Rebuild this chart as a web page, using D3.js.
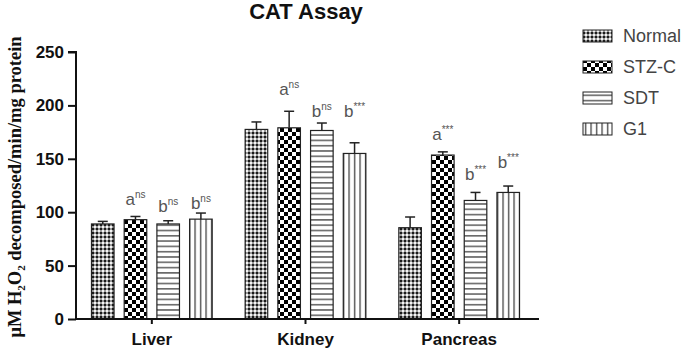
<!DOCTYPE html>
<html>
<head>
<meta charset="utf-8">
<script src="https://cdn.jsdelivr.net/npm/d3@7"></script>
<style>
  body { margin: 0; background: #fff; }
  svg { display: block; }
  .title { font-family: "Liberation Sans", Arial, sans-serif; font-weight: bold; font-size: 22px; fill: #111; }
  .tickLabel { font-family: "Liberation Sans", Arial, sans-serif; font-weight: bold; font-size: 17px; fill: #111; }
  .xLabel { font-family: "Liberation Sans", Arial, sans-serif; font-weight: bold; font-size: 17px; fill: #111; }
  .yTitle { font-family: "Liberation Serif", "Times New Roman", serif; font-weight: bold; font-size: 18.5px; fill: #111; }
  .legendText { font-family: "Liberation Sans", Arial, sans-serif; font-size: 18px; fill: #444; }
  .mark { font-family: "Liberation Sans", Arial, sans-serif; font-size: 17px; fill: #555; }
</style>
</head>
<body>
<div id="chart"></div>
<script>
// categories
var organs = ["Liver", "Kidney", "Pancreas"];
var groups = ["Normal", "STZ-C", "SDT", "G1"];

// means and upper error (SEM) per organ, in group order
var liverMeans = [89, 93, 89, 93.5];
var liverErrors = [2.4, 3, 3, 5.7];
var kidneyMeans = [177.5, 179, 176.5, 155];
var kidneyErrors = [7, 15.5, 7, 10];
var pancreasMeans = [85.5, 153.5, 111, 118.5];
var pancreasErrors = [10, 3, 7.5, 6];

// significance marks: letter, superscript, level (same units as y)
var markLetters = ["", "a", "b", "b"];
var liverSig = ["", "ns", "ns", "ns"];
var kidneySig = ["", "ns", "ns", "***"];
var pancreasSig = ["", "***", "***", "***"];
var liverMarkLevels = [0, 106.7, 100.5, 103];
var kidneyMarkLevels = [0, 209.7, 189.4, 189.4];
var pancreasMarkLevels = [0, 167.6, 130, 141];

var yTicks = [0, 50, 100, 150, 200, 250];

var width = 694, height = 363;
var margin = {top: 52, left: 76, bottom: 44, right: 158};

var svg = d3.select("#chart").append("svg")
    .attr("width", width)
    .attr("height", height);

// hatch patterns for the four groups
var defs = svg.append("defs");

var pNormal = defs.append("pattern").attr("id", "pat-Normal")
    .attr("patternUnits", "userSpaceOnUse").attr("width", 4).attr("height", 4);
pNormal.append("rect").attr("width", 4).attr("height", 4).attr("fill", "#9a9a9a");
pNormal.append("rect").attr("width", 2).attr("height", 2).attr("fill", "#1a1a1a");
pNormal.append("rect").attr("x", 2).attr("y", 2).attr("width", 2).attr("height", 2).attr("fill", "#f4f4f4");

var pStz = defs.append("pattern").attr("id", "pat-STZ-C")
    .attr("patternUnits", "userSpaceOnUse").attr("width", 8).attr("height", 8);
pStz.append("rect").attr("width", 8).attr("height", 8).attr("fill", "#fff");
pStz.append("rect").attr("width", 4).attr("height", 4).attr("fill", "#000");
pStz.append("rect").attr("x", 4).attr("y", 4).attr("width", 4).attr("height", 4).attr("fill", "#000");

var pSdt = defs.append("pattern").attr("id", "pat-SDT")
    .attr("patternUnits", "userSpaceOnUse").attr("width", 6).attr("height", 5.3);
pSdt.append("rect").attr("width", 6).attr("height", 5.3).attr("fill", "#fff");
pSdt.append("rect").attr("y", 2).attr("width", 6).attr("height", 1.2).attr("fill", "#333");

var pG1 = defs.append("pattern").attr("id", "pat-G1")
    .attr("patternUnits", "userSpaceOnUse").attr("width", 5.5).attr("height", 6);
pG1.append("rect").attr("width", 5.5).attr("height", 6).attr("fill", "#fff");
pG1.append("rect").attr("x", 2).attr("width", 1.2).attr("height", 6).attr("fill", "#333");

// table built from the arrays above
var meansBy = {Liver: liverMeans, Kidney: kidneyMeans, Pancreas: pancreasMeans};
var errorsBy = {Liver: liverErrors, Kidney: kidneyErrors, Pancreas: pancreasErrors};
var sigBy = {Liver: liverSig, Kidney: kidneySig, Pancreas: pancreasSig};
var levelBy = {Liver: liverMarkLevels, Kidney: kidneyMarkLevels, Pancreas: pancreasMarkLevels};

var rows = [];
organs.forEach(function (o) {
    groups.forEach(function (g, j) {
        rows.push({organ: o, group: g, mean: meansBy[o][j], err: errorsBy[o][j],
            letter: markLetters[j], sig: sigBy[o][j], level: levelBy[o][j]});
    });
});

var x0 = d3.scaleBand().domain(organs).range([75, 536]).padding(0);
var x1 = d3.scaleBand().domain(groups)
    .range([-60.35, 60.35]).paddingInner(0.31).paddingOuter(0);
var y = d3.scaleLinear().domain([0, 250]).range([height - margin.bottom, margin.top]);

function barX(d) { return x0(d.organ) + x0.bandwidth() / 2 + x1(d.group); }

// bars
svg.selectAll("rect.bar").data(rows).enter().append("rect")
    .attr("class", "bar")
    .attr("x", barX)
    .attr("y", function (d) { return y(d.mean); })
    .attr("width", x1.bandwidth())
    .attr("height", function (d) { return y(0) - y(d.mean); })
    .attr("fill", function (d) { return "url(#pat-" + d.group + ")"; })
    .attr("stroke", "#222")
    .attr("stroke-width", 1.2);

// error bars (upper only)
var eb = svg.selectAll("g.err").data(rows).enter().append("g").attr("class", "err");
eb.append("line")
    .attr("x1", function (d) { return barX(d) + x1.bandwidth() / 2; })
    .attr("x2", function (d) { return barX(d) + x1.bandwidth() / 2; })
    .attr("y1", function (d) { return y(d.mean); })
    .attr("y2", function (d) { return y(d.mean + d.err); })
    .attr("stroke", "#222").attr("stroke-width", 1.5);
eb.append("line")
    .attr("x1", function (d) { return barX(d) + x1.bandwidth() / 2 - 5; })
    .attr("x2", function (d) { return barX(d) + x1.bandwidth() / 2 + 5; })
    .attr("y1", function (d) { return y(d.mean + d.err); })
    .attr("y2", function (d) { return y(d.mean + d.err); })
    .attr("stroke", "#222").attr("stroke-width", 1.5);

// significance letters
var marks = svg.selectAll("text.mark").data(rows.filter(function (d) { return d.letter; }))
    .enter().append("text")
    .attr("class", "mark")
    .attr("text-anchor", "middle")
    .attr("x", function (d) { return barX(d) + x1.bandwidth() / 2; })
    .attr("y", function (d) { return y(d.level); });
marks.append("tspan").text(function (d) { return d.letter; });
marks.append("tspan")
    .attr("font-size", "10px")
    .attr("dy", -7)
    .text(function (d) { return d.sig; });

// y axis
var yAxis = svg.append("g")
    .attr("transform", "translate(" + margin.left + ",0)")
    .call(d3.axisLeft(y).tickValues(yTicks).tickSize(8).tickPadding(4));
yAxis.select(".domain").attr("stroke", "#111").attr("stroke-width", 2).attr("d",
    "M-8," + y(250) + "H0V" + y(0));
yAxis.selectAll(".tick line").attr("stroke", "#111").attr("stroke-width", 2);
yAxis.selectAll(".tick text").attr("class", "tickLabel").attr("font-size", null).attr("font-family", null);

// x axis
var xAxis = svg.append("g")
    .attr("transform", "translate(0," + y(0) + ")")
    .call(d3.axisBottom(x0).tickSize(5).tickPadding(9));
xAxis.select(".domain").attr("stroke", "#111").attr("stroke-width", 2.2)
    .attr("d", "M" + margin.left + ",0H539");
xAxis.selectAll(".tick line").attr("stroke", "#111").attr("stroke-width", 2);
xAxis.selectAll(".tick text").attr("class", "xLabel").attr("font-size", null).attr("font-family", null);

// title
svg.append("text").attr("class", "title")
    .attr("x", 306).attr("y", 19)
    .attr("text-anchor", "middle")
    .text("CAT Assay");

// y axis title
var yt = svg.append("text").attr("class", "yTitle")
    .attr("text-anchor", "middle")
    .attr("transform", "translate(21," + 187 + ") rotate(-90)");
yt.append("tspan").text("\u03bcM H");
yt.append("tspan").attr("font-size", "11px").attr("dy", 4).text("2");
yt.append("tspan").attr("dy", -4).text("O");
yt.append("tspan").attr("font-size", "11px").attr("dy", 4).text("2");
yt.append("tspan").attr("dy", -4).text(" decomposed/min/mg protein");

// legend
var legend = svg.selectAll("g.legend").data(groups).enter().append("g")
    .attr("class", "legend")
    .attr("transform", function (d, i) { return "translate(583," + (36 + i * 31) + ")"; });
legend.append("rect")
    .attr("y", -6).attr("width", 29).attr("height", 12)
    .attr("fill", function (d) { return "url(#pat-" + d + ")"; })
    .attr("stroke", "#222").attr("stroke-width", 1);
legend.append("text").attr("class", "legendText")
    .attr("x", 40).attr("dy", "0.35em")
    .text(function (d) { return d; });
</script>
</body>
</html>
